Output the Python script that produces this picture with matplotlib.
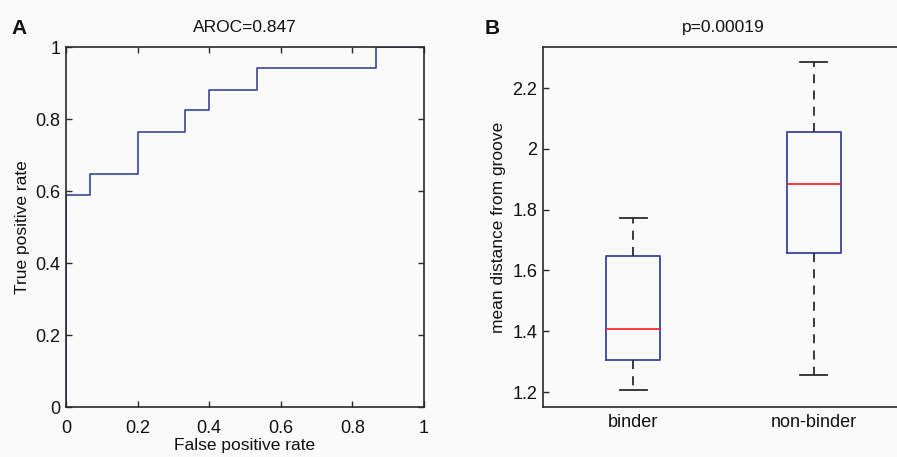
import matplotlib.pyplot as plt

plt.rcParams['font.family'] = ['Liberation Sans', 'DejaVu Sans']

# ROC curve (step points)
fpr = [0.0, 0.0, 0.067, 0.2, 0.333, 0.4, 0.533, 0.867, 1.0]
tpr = [0.0, 0.588, 0.647, 0.765, 0.824, 0.882, 0.941, 1.0, 1.0]
aroc = 0.847

# box summaries: whisker low, q1, median, q3, whisker high
groups = ['binder', 'non-binder']
whis_lo = [1.207, 1.257]
q1 = [1.307, 1.658]
med = [1.406, 1.886]
q3 = [1.647, 2.054]
whis_hi = [1.772, 2.285]
p_value = '0.00019'

bg = '#fafafa'
ink = '#2a2a2a'
txt = '#111111'
blue = '#3a45a0'

fig = plt.figure(figsize=(8.97, 4.57), dpi=100, facecolor=bg)

# --- A: ROC ---
axA = fig.add_axes([0.0736, 0.1094, 0.3991, 0.7877])
axA.set_facecolor(bg)
axA.step(fpr, tpr, where='post', color=blue, lw=1.2)
axA.set_xlim(0, 1)
axA.set_ylim(0, 1)
axA.set_xticks([0, 0.2, 0.4, 0.6, 0.8, 1])
axA.set_xticklabels(['0', '0.2', '0.4', '0.6', '0.8', '1'])
axA.set_yticks([0, 0.2, 0.4, 0.6, 0.8, 1])
axA.set_yticklabels(['0', '0.2', '0.4', '0.6', '0.8', '1'])
axA.tick_params(direction='in', top=True, right=True, length=4, width=1,
                color=ink, labelsize=13, labelcolor=txt, pad=4)
axA.tick_params(axis='x', pad=9)
axA.set_xlabel('False positive rate', fontsize=12.5, color=txt, labelpad=1)
axA.set_ylabel('True positive rate', fontsize=12.5, color=txt, labelpad=4)
axA.set_title(f'AROC={aroc}', fontsize=12.5, color=txt, pad=11)
for s in axA.spines.values():
    s.set_color(ink)
    s.set_linewidth(1.2)

# --- B: boxplot ---
axB = fig.add_axes([0.6054, 0.1094, 0.4024, 0.7877])
axB.set_facecolor(bg)
stats = [dict(label=g, whislo=a, q1=b, med=c, q3=d, whishi=e)
         for g, a, b, c, d, e in zip(groups, whis_lo, q1, med, q3, whis_hi)]
axB.bxp(stats, positions=[1, 2], widths=0.3, showfliers=False,
        boxprops=dict(color=blue, lw=1.3),
        medianprops=dict(color='#ff2a2a', lw=1.3),
        whiskerprops=dict(color=ink, lw=1.3, ls=(0, (5, 4))),
        capprops=dict(color=ink, lw=1.3), capwidths=0.15)
axB.set_xlim(0.5, 2.5)
axB.set_ylim(1.151, 2.335)
axB.set_yticks([1.2, 1.4, 1.6, 1.8, 2.0, 2.2])
axB.set_yticklabels(['1.2', '1.4', '1.6', '1.8', '2', '2.2'])
axB.tick_params(axis='y', direction='in', right=True, length=4, width=1,
                color=ink, labelsize=13, labelcolor=txt, pad=4)
axB.tick_params(axis='x', length=0, labelsize=13, labelcolor=txt, pad=5)
axB.set_ylabel('mean distance from groove', fontsize=12.5, color=txt, labelpad=5)
axB.set_title(f'p={p_value}', fontsize=12.5, color=txt, pad=11)
for s in axB.spines.values():
    s.set_color(ink)
    s.set_linewidth(1.2)

fig.text(0.013, 0.925, 'A', fontsize=15, fontweight='bold', color=txt)
fig.text(0.540, 0.925, 'B', fontsize=15, fontweight='bold', color=txt)

fig.savefig('out.png', dpi=100, facecolor=bg)
